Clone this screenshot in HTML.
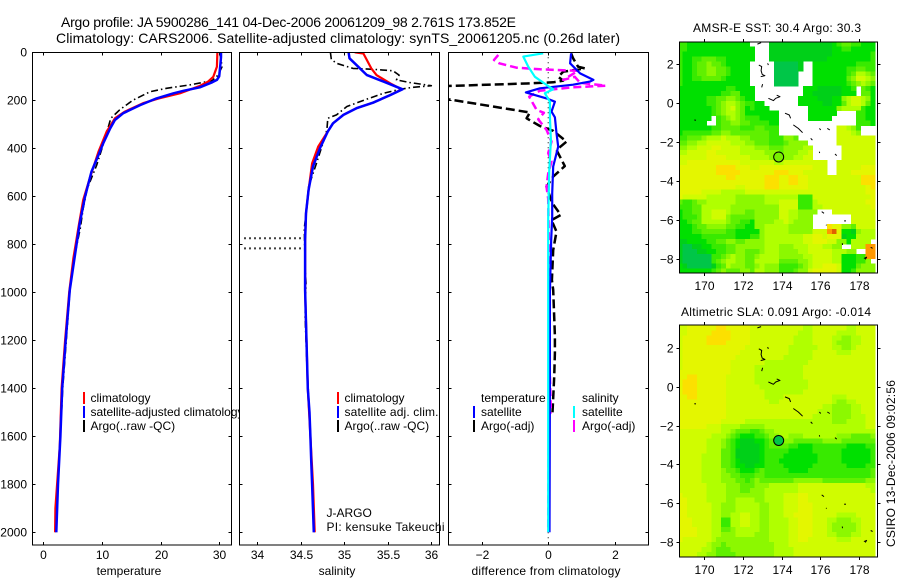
<!DOCTYPE html>
<html>
<head>
<meta charset="utf-8">
<title>Argo profile</title>
<style>
html,body{margin:0;padding:0;background:#fff;}
svg{display:block;font-family:"Liberation Sans",sans-serif;font-size:12px;fill:#000;}
.box{fill:none;stroke:#000;stroke-width:1;shape-rendering:crispEdges;}
.tick{stroke:#000;stroke-width:1;shape-rendering:crispEdges;}
.cell{shape-rendering:crispEdges;}
.series{fill:none;stroke-linejoin:round;}
</style>
</head>
<body>
<svg id="chart" xmlns="http://www.w3.org/2000/svg" width="900" height="580" viewBox="0 0 900 580">
<defs>
<clipPath id="clip-temp"><rect x="32.5" y="52" width="199" height="493"/></clipPath>
<clipPath id="clip-sal"><rect x="239.5" y="52" width="200" height="493"/></clipPath>
<clipPath id="clip-diff"><rect x="448.5" y="52" width="200" height="493"/></clipPath>
<clipPath id="clip-sst"><rect x="679.5" y="42" width="198" height="231"/></clipPath>
<clipPath id="clip-sla"><rect x="679.5" y="325" width="198" height="232"/></clipPath>
</defs>
<rect x="0" y="0" width="900" height="580" fill="#fff"/>
<text x="61" y="27" font-size="14" textLength="455" lengthAdjust="spacing">Argo profile: JA 5900286_141 04-Dec-2006 20061209_98 2.761S 173.852E</text>
<text x="56" y="43" font-size="14" textLength="564" lengthAdjust="spacing">Climatology: CARS2006. Satellite-adjusted climatology: synTS_20061205.nc (0.26d later)</text>

<g id="temp-panel">
<rect x="32.5" y="52.5" width="199" height="492.5" fill="#fff"/>
<g id="temp-ticks"></g>
<g id="temp-lines" clip-path="url(#clip-temp)"></g>
<rect class="box" x="32.5" y="52.5" width="199" height="492.5"/>
<text x="129" y="575" text-anchor="middle">temperature</text>
<g>
<rect x="83" y="392" width="2" height="12" fill="#f00"/>
<text x="90.5" y="402">climatology</text>
<rect x="83" y="406" width="2" height="12" fill="#00f"/>
<text x="90.5" y="416" textLength="153" lengthAdjust="spacing">satellite-adjusted climatology</text>
<rect x="83" y="420" width="2" height="12" fill="#000"/>
<text x="90.5" y="430">Argo(..raw -QC)</text>
</g>
</g>

<g id="sal-panel">
<rect x="239.5" y="52.5" width="200" height="492.5" fill="#fff"/>
<g id="sal-ticks"></g>
<g id="sal-lines" clip-path="url(#clip-sal)"></g>
<rect class="box" x="239.5" y="52.5" width="200" height="492.5"/>
<text x="337" y="575" text-anchor="middle">salinity</text>
<g>
<rect x="337" y="392" width="2" height="12" fill="#f00"/>
<text x="344.5" y="402">climatology</text>
<rect x="337" y="406" width="2" height="12" fill="#00f"/>
<text x="344.5" y="416" textLength="94" lengthAdjust="spacing">satellite adj. clim.</text>
<rect x="337" y="420" width="2" height="12" fill="#000"/>
<text x="344.5" y="430">Argo(..raw -QC)</text>
</g>
<text x="326.5" y="517">J-ARGO</text>
<text x="326.5" y="531" textLength="118" lengthAdjust="spacing">PI: kensuke Takeuchi</text>
</g>

<g id="diff-panel">
<rect x="448.5" y="52.5" width="200" height="492.5" fill="#fff" fill-opacity="0"/>
<g id="diff-ticks"></g>
<g id="diff-lines" clip-path="url(#clip-diff)"></g>
<rect class="box" x="448.5" y="52.5" width="200" height="492.5"/>
<text x="546" y="575" text-anchor="middle" textLength="149" lengthAdjust="spacing">difference from climatology</text>
<g>
<text x="481" y="402">temperature</text>
<text x="582" y="402">salinity</text>
<rect x="473" y="406" width="2" height="12" fill="#00f"/>
<text x="481" y="416">satellite</text>
<rect x="573" y="406" width="2" height="12" fill="#0ff"/>
<text x="582" y="416">satellite</text>
<rect x="473" y="420" width="2" height="12" fill="#000"/>
<text x="481" y="430">Argo(-adj)</text>
<rect x="573" y="420" width="2" height="12" fill="#f0f"/>
<text x="582" y="430">Argo(-adj)</text>
</g>
</g>

<g id="sst-panel">
<text x="693" y="32" textLength="168" lengthAdjust="spacing">AMSR-E SST: 30.4 Argo: 30.3</text>
<g id="sst-map" clip-path="url(#clip-sst)"></g>
<g id="sst-coast" clip-path="url(#clip-sst)"></g>
<rect class="box" x="679.5" y="42" width="198" height="231"/>
<g id="sst-ticks"></g>
</g>

<g id="sla-panel">
<text x="681" y="316" textLength="190" lengthAdjust="spacing">Altimetric SLA: 0.091 Argo: -0.014</text>
<g id="sla-map" clip-path="url(#clip-sla)"></g>
<g id="sla-coast" clip-path="url(#clip-sla)"></g>
<rect class="box" x="679.5" y="325" width="198" height="232"/>
<g id="sla-ticks"></g>
</g>

<text transform="translate(895,547) rotate(-90)" textLength="167" lengthAdjust="spacing">CSIRO 13-Dec-2006 09:02:56</text>
</svg>

<script>
// ---------- profile data ----------
const depthTicks = [0,200,400,600,800,1000,1200,1400,1600,1800,2000];
const tempTicks = [0,10,20,30];
const salTicks = [34,34.5,35,35.5,36];
const diffTicks = [-2,0,2];

const tempClimDepth = [0,60,102,122,140,171,192,212,247,275,330,414,518,615,726,860,1000,1200,1400,1640,1900,2000];
const tempClimValue = [29.7,29.6,29,28.1,26.7,23.3,19.7,17,13.9,12.2,10.8,9.4,8,6.8,6,5.1,4.4,3.7,3.1,2.8,2.05,2];
const tempSatDepth = [0,20,50,75,100,115,125,135,146,160,171,192,220,254,282,317,379,428,497,602,713,810,990,1200,1400,1600,1800,2000];
const tempSatValue = [30.3,30.3,30.2,30.1,30,29.6,28.8,27.8,26.7,24,22.2,19.3,16.5,13.6,12.2,11.4,10.2,9.4,8.2,7.1,6.2,5.6,4.5,3.8,3.2,2.9,2.5,2.2];
const tempArgoDepth = [0,60,95,118,125,136,150,164,199,240,275,310,370,470,567,650,733,850,1000,1200,1400,1500];
const tempArgoValue = [30.1,30.5,29.8,28.8,27.3,25,21,18.2,15.3,13,11.5,11.1,10.4,9.1,7.5,6.8,6.3,5.3,4.5,3.9,3.3,3.1];

const salClimDepth = [0,5,67,95,130,154,178,210,233,261,296,330,393,463,573,671,782,990,1400,1600,1800,2000];
const salClimValue = [35.12,35.22,35.31,35.37,35.53,35.66,35.53,35.33,35.14,34.99,34.87,34.81,34.7,34.63,34.59,34.56,34.55,34.55,34.58,34.61,34.64,34.66];
const salSatDepth = [0,25,60,95,122,154,178,210,233,261,296,330,400,476,573,671,782,990,1400,1500,1600,1700,1800,2000];
const salSatValue = [35.05,35.06,35.16,35.26,35.45,35.67,35.53,35.33,35.14,34.99,34.87,34.81,34.72,34.64,34.59,34.56,34.55,34.55,34.58,34.6,34.61,34.62,34.63,34.65];
const salArgoDepth = [0,29,46,67,71,77,95,115,126,139,146,154,171,195,226,261,275,323,372,462,560,643,733,893,962,1100,1300,1500];
const salArgoValue = [34.84,34.85,34.91,35.1,35.33,35.56,35.63,35.6,35.75,36,35.79,35.64,35.45,35.26,35.03,34.91,34.81,34.8,34.76,34.68,34.59,34.57,34.54,34.55,34.56,34.55,34.57,34.6];
const flagDepths = [775,817];
const flagSalinityStart = 33.85;
const flagSalinityEnd = 34.53;

const diffTempSatDepth = [4,46,88,115,122,135,150,167,192,206,247,271,337,393,476,587,685,780,1000,1400,2000];
const diffTempSatValue = [0.69,0.66,0.96,1.36,1.25,0.75,-0.25,-0.67,-0.05,0.2,0.1,0.2,0.25,0.3,0.15,0.12,0.12,0.09,0.05,0.05,0.04];
const diffSalSatDepth = [4,18,60,102,136,154,171,206,268,365,500,690,1000,1500,2000];
const diffSalSatValue = [-0.15,-0.75,-0.6,-0.4,-0.05,0.15,-0.1,0.05,0.05,0.08,0.03,0,0,0,0];
const diffTempArgoDepth = [4,25,60,67,81,102,118,125,130,140,165,196,251,275,307,327,372,407,474,518,560,628,678,699,747,824,949,990,1182,1253,1353,1500];
const diffTempArgoValue = [0.69,0.75,0.9,1.1,0.45,0.3,0.45,0.15,-0.65,-2.95,-5,-3,-0.55,-0.65,-0.25,0.15,0.55,0.25,0.5,0.15,-0.05,0.12,0.38,0.1,0.25,0.15,0.11,0.15,0.2,0.2,0.18,0.13];
const diffSalArgoDepth = [11,32,46,64,71,74,77,115,102,127,139,146,160,185,240,252,279,323,372,420,456,505,560,610,800,1200,1500,1510,2000];
const diffSalArgoValue = [-1.5,-1.63,-1.47,-0.95,-0.25,0.35,0.9,0.45,0.8,0.96,1.73,0.75,-0.25,-0.57,-0.35,-0.13,-0.3,-0.05,0.1,0,0.1,0,-0.05,0,0.02,0.02,0.08,0.02,0];

// ---------- map data ----------
const lonTicks = [170,172,174,176,178];
const latTicks = [2,0,-2,-4,-6,-8];
const floatLon = 173.852;
const floatLat = -2.761;
const levelColors = ["#00c648","#00d018","#00e000","#38ea00","#60f000","#8cf800","#b0ff00","#d0fc00","#e4f600","#fce000","#ff9800","#e06000"];
const levelKeys = "0123456789ab";

const sstRows = [
"3322222222 22222....1 1111111111 1123443322 2",
"3322222222 222222...1 1111111111 1122332222 2",
"3222222222 222222...1 1111111111 1122222222 3",
"3223344433 222222...1 1111111111 1222222222 3",
"3223445443 22222..... 000001..22 2222222333 3",
"3223445544 32222..... 000001..22 2222233443 3",
"3223445544 32222..... 00000...22 2222234665 4",
"3223344443 22222..... 00000...22 2222245776 5",
"3222222222 22222..... 00000...22 2222234565 4",
"2222222222 332222.... ......2221 1111223.43 2",
"2222222223 344222.... ......2211 1111222.44 2",
"2222223344 554322.... .....22221 1122567765 2",
"2222223345 66543322.. .....22222 1122467764 2",
"2222222345 675423222. .......222 2225666632 2",
"2222222345 6654222222 2......222 222....332 2",
"2222222.34 5654333222 2......222 22.....332 2",
"222222..34 4554433332 2......... .......333 2",
"2222222334 4443334433 3......... ...77653.. .",
"2333333445 5444444443 3......... ...77765.. .",
"3344456667 6665544443 33554..... ...7777777 7",
"4455667777 7666554443 3345555... ...7777777 7",
"5566777887 7776665554 44555566.. ....777777 7",
"6677778877 7776666655 54555667.. ....777777 7",
"7777778888 7777766665 54556677.. ....777777 7",
"7788888888 8887777777 6677777777 7..7777777 7",
"8888888899 9988877888 8888888877 7..7777788 8",
"8888888899 9998888888 9998887777 7..7778888 8",
"8888888888 9988888899 9889988777 7777777799 9",
"8888888888 8888888899 9889988777 7777777799 9",
"8888888888 8877888899 9888888777 7777777778 9",
"8888877776 6666777777 7777777777 7777777778 8",
"8777776666 6655555566 6666633377 7777777777 8",
"4334556666 6655555566 6777733367 7777777778 8",
"3334466666 6555555555 5777733366 7777777777 8",
"2334466777 6555445555 577665555. ..77777777 7",
"2333466777 5444445555 57766555.. ......7777 7",
"2234466666 5443325555 66765555.. ......7777 7",
"2223445555 4433225566 66655555.. .988554777 7",
"2223344444 3322222566 6665555577 7ab8221566 6",
"2222233333 3322233566 6666667788 7888122666 6",
"1122223344 5544555566 6666667788 8775526666 .",
"1001122333 4455555566 6555666777 6655..666a a",
"1000112233 4455444566 6555566777 7766655..a a",
"1000000334 5655445666 6555556677 776622233a a",
"1000000345 6655446666 6444455677 7766222335 .",
"2100000134 6555445655 5333345677 8887222455 5",
"2222222345 4445546655 5333455788 8887223555 5"
];

const slaRows = [
"7788888899 8888877777 7777776677 7777766777 7",
"7788888999 9888877777 7777766677 7776666777 7",
"7888889999 9888877777 7777666677 7766556677 7",
"7888889999 8888877777 7777666677 7765556677 7",
"7888888888 8888777777 7776666667 7766556777 7",
"7888888888 8887777777 7776666677 7776667777 7",
"7888888888 8877777777 7766666677 7777777777 7",
"7888888888 8777777766 6666666777 7777777777 7",
"7888888888 8777776666 6666667777 7777777777 7",
"8888888888 8777776666 6666667777 7777777777 7",
"8899888888 7777776666 6666667777 7777777777 7",
"8999888888 7777776666 6666666777 7777777777 7",
"8999888888 7777777666 6666666777 7777777777 7",
"8999888888 7777777766 6666667777 7777777777 7",
"8899888888 7777777766 6677777777 7766677777 7",
"8888888888 7777777776 6777777777 7765566777 7",
"8888888888 7777777777 7777777777 6655556677 7",
"8888888888 7777777777 7777777776 6655556677 7",
"8888888888 7777777777 7777777766 6655556667 7",
"8888888887 7777666666 6666666666 6655566667 7",
"8888887776 6665555566 6666666666 6666666667 7",
"7777777776 6544433455 6666666666 6666666666 6",
"7777777666 5432223345 5665556666 6665554444 5",
"7777776665 4321112234 5555444444 5555444444 4",
"7777776665 4321111234 4443322233 3333322223 3",
"7777776664 4311111233 3332222233 3333222222 3",
"7777766664 4311111233 3322222223 3333222222 3",
"7777766664 4321111233 3222222223 3333222222 3",
"7777766664 4322112233 3322222233 3333322223 3",
"7777766665 4432223433 3332222333 3333333333 4",
"7777766665 5443334433 3333333333 3333333333 4",
"7777766665 5544345444 4444555555 4444444445 5",
"7777776666 5554445556 6666677777 7777777776 6",
"7777776666 5554455566 6666677777 7777777777 6",
"8777776666 5555555566 6677788777 7777777777 7",
"8877776666 5566665566 6677788777 7777777777 7",
"8877777665 5566666556 6677788877 7777777777 7",
"8877777665 5566666556 6677788877 7777777777 7",
"8877777665 5667766556 6677888877 7776666777 7",
"8887777663 3667766556 6667788877 7665556677 7",
"8887777663 3667766556 6667788877 7655555677 7",
"8888777664 4566666556 6667788877 7655555677 7",
"8888777665 5566665556 6667788877 7665556677 7",
"8777777655 5555555556 6667788777 7776667777 7",
"7777776554 5555555555 6667777777 7777777777 7",
"7777766544 4555555555 6666777777 7777777777 7",
"7777665544 4455555555 6666777777 7777777777 7"
];

const coastLons = [
[172.75,172.94],[172.82,172.97,172.94,173.0,173.14,172.92],[173.28,173.32],[173.02,172.97],
[173.32,173.58,173.7,173.92,173.75],[174.18,174.4,174.47],[174.61,174.87,175.09],[175.51,175.6],
[175.96,176.03],[176.37,176.5],[175.96,175.97],[176.77,176.86],[169.48,169.57],[176.08,176.2],
[176.3,176.34],[177.24,177.34],[177.15,177.16],[178.27,178.41,178.34],[178.62,178.72]
];
const coastLats = [
[3.05,3.12],[1.97,1.89,1.68,1.49,1.42,1.37],[2.06,1.97],[0.99,0.82],
[0.26,0.14,0.26,0.34,0.42],[-0.51,-0.6,-0.77],[-1.11,-1.29,-1.51],[-1.8,-1.89],
[-1.29,-1.37],[-1.29,-1.37],[-2.49,-2.56],[-2.61,-2.69],[-0.86,-0.87],[-5.57,-5.66],
[-6.26,-6.27],[-6.05,-6.05],[-7.2,-7.29],[-7.98,-7.92,-8.03],[-7.41,-7.46]
];

// ---------- scales ----------
const NS = "http://www.w3.org/2000/svg";
const yDepth = d => 52.3 + d * 0.24;
const xTemp = v => 43.4 + v * 5.86;
const xSal = v => 257.3 + (v - 34) * 87;
const xDiff = v => 548.2 + v * 33.25;
const xLon = lon => 704.33 + (lon - 170) * 19.3;
const ySstLat = lat => 103.33 - lat * 19.43;
const ySlaLat = lat => 387 - lat * 19.37;
const firstLonEdge = 168.61;
const lonStep = 0.25;
const firstLatEdge = 3.175;
const latStep = 0.254;

function el(tag, parent) {
  const node = document.createElementNS(NS, tag);
  parent.appendChild(node);
  return node;
}

function drawLine(parent, depths, values, xFn, color, width, dash, name) {
  const path = el("path", parent);
  
  
  path.setAttribute("class", "series");
  path.setAttribute("d", depths.map((d, i) => (i ? "L" : "M") + xFn(values[i]).toFixed(1) + " " + yDepth(d).toFixed(1)).join(""));
  path.setAttribute("stroke", color);
  path.setAttribute("stroke-width", width);
  if (dash) path.setAttribute("stroke-dasharray", dash);
}

function tickLine(parent, x1, y1, x2, y2) {
  const t = el("line", parent);
  
  
  t.setAttribute("class", "tick");
  t.setAttribute("x1", x1); t.setAttribute("y1", y1);
  t.setAttribute("x2", x2); t.setAttribute("y2", y2);
}

function tickText(parent, x, y, anchor, str) {
  const t = el("text", parent);
  
  
  t.setAttribute("x", x); t.setAttribute("y", y);
  t.setAttribute("text-anchor", anchor);
  t.textContent = str;
}

const fmt = v => String(v).replace("-", "\u2212");

function profileTicks(parent, left, right, xTicks, xFn, showDepth) {
  const top = 52.5, bottom = 545;
  depthTicks.forEach(d => {
    const y = Math.round(yDepth(d)) + 0.5;
    tickLine(parent, left, y, left + 3, y);
    tickLine(parent, right - 3, y, right, y);
    if (showDepth) tickText(parent, 27, y + 4, "end", String(d));
  });
  xTicks.forEach(v => {
    const x = Math.round(xFn(v)) + 0.5;
    tickLine(parent, x, top, x, top + 3);
    tickLine(parent, x, bottom - 3, x, bottom);
    tickText(parent, x, 559, "middle", fmt(v));
  });
}

function drawHeatmap(parent, rows, yLat, name) {
  rows.forEach((rawRow, j) => {
    const row = rawRow.replace(/ /g, "");
    for (let k = 0; k < row.length; k++) {
      const idx = levelKeys.indexOf(row[k]);
      if (idx < 0) continue;
      const cell = el("rect", parent);
      
      
      const x0 = xLon(firstLonEdge + k * lonStep);
      const x1 = xLon(firstLonEdge + (k + 1) * lonStep);
      const y0 = yLat(firstLatEdge - j * latStep);
      const y1 = yLat(firstLatEdge - (j + 1) * latStep);
      cell.setAttribute("class", "cell");
      cell.setAttribute("x", x0.toFixed(2));
      cell.setAttribute("y", y0.toFixed(2));
      cell.setAttribute("width", (x1 - x0 + 0.3).toFixed(2));
      cell.setAttribute("height", (y1 - y0 + 0.3).toFixed(2));
      cell.setAttribute("fill", levelColors[idx]);
    }
  });
}

function drawCoast(parent, yLat, color) {
  coastLons.forEach((lons, s) => {
    const p = el("path", parent);
    
    
    p.setAttribute("class", "series");
    p.setAttribute("stroke", color);
    p.setAttribute("stroke-width", "1");
    p.setAttribute("d", lons.map((lon, i) => (i ? "L" : "M") + xLon(lon).toFixed(1) + " " + yLat(coastLats[s][i]).toFixed(1)).join(""));
  });
}

function mapTicks(parent, yLat, left, right, top, bottom, labelY) {
  lonTicks.forEach(lon => {
    const x = Math.round(xLon(lon)) + 0.5;
    tickLine(parent, x, top - 3, x, top);
    tickLine(parent, x, bottom, x, bottom + 3);
    tickText(parent, x, labelY, "middle", String(lon));
  });
  latTicks.forEach(lat => {
    const y = Math.round(yLat(lat)) + 0.5;
    tickLine(parent, left - 3, y, left, y);
    tickLine(parent, right, y, right + 3, y);
    tickText(parent, left - 6, y + 4, "end", fmt(lat));
  });
}

function floatMarker(parent, yLat, color) {
  const c = el("circle", parent);
  
  
  c.setAttribute("cx", xLon(floatLon));
  c.setAttribute("cy", yLat(floatLat));
  c.setAttribute("r", 5);
  c.setAttribute("fill", color);
  c.setAttribute("stroke", "#000");
  c.setAttribute("stroke-width", 1);
}

// ---------- draw ----------
const g = id => document.getElementById(id);

profileTicks(g("temp-ticks"), 32.5, 231.5, tempTicks, xTemp, true);
profileTicks(g("sal-ticks"), 239.5, 439.5, salTicks, xSal, false);
profileTicks(g("diff-ticks"), 448.5, 648.5, diffTicks, xDiff, false);

drawLine(g("temp-lines"), tempArgoDepth, tempArgoValue, xTemp, "#000", 1.6, "7 3 1.5 3", "temperature-argo-line");
drawLine(g("temp-lines"), tempClimDepth, tempClimValue, xTemp, "#f00", 2.2, "", "temperature-climatology-line");
drawLine(g("temp-lines"), tempSatDepth, tempSatValue, xTemp, "#00f", 2.5, "", "temperature-satellite-line");

flagDepths.forEach(d => {
  const dots = el("line", g("sal-lines"));
  
  
  dots.setAttribute("x1", xSal(flagSalinityStart));
  dots.setAttribute("x2", xSal(flagSalinityEnd));
  dots.setAttribute("y1", yDepth(d));
  dots.setAttribute("y2", yDepth(d));
  dots.setAttribute("stroke", "#000");
  dots.setAttribute("stroke-width", 2);
  dots.setAttribute("stroke-dasharray", "1.5 3.5");
});
drawLine(g("sal-lines"), salArgoDepth, salArgoValue, xSal, "#000", 1.6, "7 3 1.5 3", "salinity-argo-line");
drawLine(g("sal-lines"), salClimDepth, salClimValue, xSal, "#f00", 2.2, "", "salinity-climatology-line");
drawLine(g("sal-lines"), salSatDepth, salSatValue, xSal, "#00f", 2.5, "", "salinity-satellite-line");

const zeroLine = el("line", g("diff-lines"));


zeroLine.setAttribute("x1", xDiff(0));
zeroLine.setAttribute("x2", xDiff(0));
zeroLine.setAttribute("y1", yDepth(0));
zeroLine.setAttribute("y2", yDepth(2040));
zeroLine.setAttribute("stroke", "#000");
zeroLine.setAttribute("stroke-width", 1);
zeroLine.setAttribute("stroke-dasharray", "1 4");
drawLine(g("diff-lines"), diffTempArgoDepth, diffTempArgoValue, xDiff, "#000", 2.5, "9 4", "difference-temperature-argo-line");
drawLine(g("diff-lines"), diffSalArgoDepth, diffSalArgoValue, xDiff, "#f0f", 2.5, "8 4", "difference-salinity-argo-line");
drawLine(g("diff-lines"), diffTempSatDepth, diffTempSatValue, xDiff, "#00f", 2.2, "", "difference-temperature-satellite-line");
drawLine(g("diff-lines"), diffSalSatDepth, diffSalSatValue, xDiff, "#0ff", 2.2, "", "difference-salinity-satellite-line");

drawHeatmap(g("sst-map"), sstRows, ySstLat, "sst-cell");
drawHeatmap(g("sla-map"), slaRows, ySlaLat, "sla-cell");
drawCoast(g("sst-coast"), ySstLat, "#000");
drawCoast(g("sla-coast"), ySlaLat, "#000");
floatMarker(g("sst-coast"), ySstLat, "#78ee00");
floatMarker(g("sla-coast"), ySlaLat, "#00c648");
mapTicks(g("sst-ticks"), ySstLat, 679.5, 877.5, 42, 273, 290);
mapTicks(g("sla-ticks"), ySlaLat, 679.5, 877.5, 325, 557, 574);
</script>
</body>
</html>
